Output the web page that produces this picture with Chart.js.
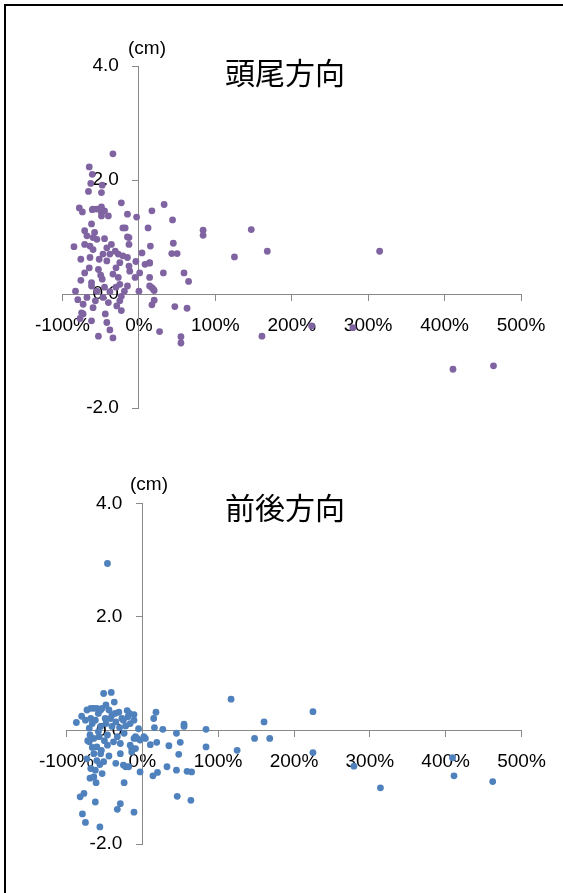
<!DOCTYPE html>
<html>
<head>
<meta charset="utf-8">
<script src="https://cdn.jsdelivr.net/npm/chart.js@4.4.1/dist/chart.umd.min.js"></script>
<style>
html, body { margin: 0; padding: 0; background: #fff; }
#wrap { position: relative; width: 563px; height: 893px; overflow: hidden; background: #fff; }
#frameL { position: absolute; left: 4px; top: 4px; width: 2px; height: 889px; background: #000; }
#frameT { position: absolute; left: 4px; top: 4px; width: 559px; height: 2px; background: #000; }
canvas { position: absolute; left: 0; }
.title { position: absolute; font-family: "Noto Sans CJK JP", "Noto Sans CJK SC", sans-serif; font-size: 30px; color: #000; white-space: nowrap; transform: translate(-50%, -50%); line-height: 1; }
.unit { position: absolute; font-family: "Liberation Sans", Arial, sans-serif; font-size: 19px; color: #000; white-space: nowrap; transform: translate(-50%, -50%); line-height: 1; }
</style>
</head>
<body>
<div id="wrap">
  <div id="frameL"></div>
  <div id="frameT"></div>
  <canvas id="c1" width="563" height="446" style="top:0px"></canvas>
  <canvas id="c2" width="563" height="447" style="top:446px"></canvas>
  <div class="unit" style="left:147px; top:47px">(cm)</div>
  <div class="title" style="left:285px; top:71px">頭尾方向</div>
  <div class="unit" style="left:149px; top:483px">(cm)</div>
  <div class="title" style="left:285px; top:506px">前後方向</div>
</div>
<script>
// ---- tick labels ----
const xTickValues = [-100, 0, 100, 200, 300, 400, 500];
const xTickLabels = ['-100%', '0%', '100%', '200%', '300%', '400%', '500%'];
const yTickValues = [-2, 0, 2, 4];
const yTickLabels = ['-2.0', '0.0', '2.0', '4.0'];

// ---- series 1: 頭尾方向 (x = %, y = cm) ----
const headTailX = [
  -34, -65, -61, -63, -48, -66, -49, -23, -78, -74, -61, -55, -49, -60, -49, -45, -40, -49, -15, -3,
  -62, -18, -21, -15, -13, -71, -58, -68, -60, -45, -55, -85, -71, -64, -60, -42, -36, -31, -38, -21,
  -15, -13, 4, 12, 17, -76, -64, -52, -47, -42, -27, -25, -13, -4, 8, 14, -65, -53, -30, -12,
  -71, -34, 1, -76, -62, -48, -27, -25, -5, 14, 19, 32, -83, -62, -45, -15, 0, -55, -38, -23,
  -68, -47, 14, 59, 65, 17, 20, 15, 14, 33, 44, 84, 84, 147, 45, 43, 50, 168, 125, 315,
  20, 17, 47, 63, 27, 55, 55, 161, 226, 280, 411, 464, -73, -75, -60, -29, -23, -25, -73, -44,
  -62, -42, -38, -53, -34, -77, -80, -57, -40, -50, -30, -19
];
const headTailY = [
  2.46, 2.23, 2.10, 1.94, 1.91, 1.80, 1.78, 1.60, 1.51, 1.44, 1.48, 1.49, 1.53, 1.49, 1.43, 1.46, 1.37, 1.37, 1.40, 1.35,
  1.23, 1.16, 1.16, 1.00, 0.99, 1.11, 1.08, 1.02, 0.99, 0.97, 0.96, 0.83, 0.87, 0.84, 0.78, 0.81, 0.87, 0.75, 0.70, 0.67,
  0.64, 0.87, 0.72, 1.16, 1.46, 0.61, 0.64, 0.61, 0.70, 0.58, 0.70, 0.55, 0.49, 0.57, 0.52, 0.55, 0.46, 0.43, 0.46, 0.40,
  0.37, 0.35, 0.37, 0.24, 0.20, 0.26, 0.29, 0.17, 0.29, 0.29, 0.08, 0.37, 0.05, 0.14, 0.12, 0.14, 0.05, 0.05, 0.04, -0.04,
  -0.06, -0.06, 0.14, 0.37, 0.22, 0.11, 0.06, 0.84, 0.54, 1.57, 1.30, 1.12, 1.03, 1.13, 0.89, 0.71, 0.71, 0.75, 0.65, 0.75,
  -0.11, -0.19, -0.22, -0.25, -0.66, -0.75, -0.86, -0.74, -0.56, -0.59, -1.32, -1.26, -0.18, -0.33, -0.24, -0.21, -0.29, -0.12, -0.35, -0.35,
  -0.47, -0.50, -0.63, -0.74, -0.77, -0.43, -0.10, -0.12, -0.15, 0.33, 0.12, 0.05
];

// ---- series 2: 前後方向 (x = %, y = cm) ----
const frontBackX = [
  -46, -51, -41, -37, -87, -73, -68, -60, -53, -44, -36, -75, -68, -62, -49, -42, -27, -19, -11, -17,
  -40, -25, -70, -55, -40, -22, -16, -11, -69, -64, -57, -46, -33, -11, -7, 4, -70, -60, -46, -29,
  -16, -9, -14, -64, -55, -29, -14, -73, -60, -51, -25, -18, -22, -3, -68, -62, -69, -61, -53, -64,
  -24, -82, -77, -62, -29, -33, -11, -79, -75, -56, -9, -3, -64, -55,
  -80, -58, -48, -35, -30, -58, -50, -38, -24, -66, -56, -44, -35, -72, -20, -5, -48, -66, -54, -31,
  18, 15, 16, 27, 2, 10.5, 19, 35, 45, 50, 55, 55, 48, 32.5, 20, 14, 45, 59, 65, 46,
  64, 84, 84, 117, 125, 148, 160.5, 168, 225, 225, 279, 314, 409, 411, 462
];
const frontBackY = [
  2.94, 0.65, 0.67, 0.50, 0.14, 0.36, 0.39, 0.39, 0.39, 0.36, 0.30, 0.18, 0.21, 0.18, 0.21, 0.21, 0.21, 0.24, 0.28, 0.30,
  0.27, 0.18, 0.04, 0.07, 0.07, 0.08, 0.12, 0.18, -0.08, -0.14, -0.11, -0.08, -0.11, -0.14, -0.14, -0.14, -0.20, -0.29, -0.26, -0.23,
  -0.26, -0.32, -0.31, -0.41, -0.41, -0.41, -0.38, -0.50, -0.53, -0.55, -0.61, -0.64, -0.64, -0.73, -0.67, -0.70, -0.84, -0.92, -0.76, -0.82,
  -0.92, -1.17, -1.11, -1.26, -1.29, -1.39, -1.44, -1.47, -1.62, -1.70, -0.11, -0.17, 0.39, 0.36,
  0.25, 0.30, 0.12, 0.15, 0.05, -0.02, -0.18, -0.20, -0.05, -0.30, -0.60, -0.45, -0.58, -0.18, 0.35, 0.03, 0.45, 0.12, -0.35, 0.32,
  0.32, 0.21, 0.05, 0.02, -0.11, -0.25, -0.21, -0.27, -0.05, -0.21, 0.11, 0.07, -0.42, -0.64, -0.74, -0.80, -0.70, -0.72, -0.73, -1.16,
  -1.23, 0.02, -0.29, 0.55, -0.35, -0.14, 0.15, -0.14, 0.33, -0.39, -0.63, -1.01, -0.48, -0.80, -0.90
];

const AXIS_COLOR = '#898989';
const TICK_FONT = { family: '"Liberation Sans", Arial, sans-serif', size: 19 };

// shift y tick labels to sit left of the crossing y axis
const yLabelGap = {
  id: 'yLabelGap',
  beforeDraw(chart, args, opts) {
    const ys = chart.scales.y;
    const xPix = chart.scales.x.getPixelForValue(0);
    const items = ys.getLabelItems();
    items.forEach(it => { it.options.translation[0] = xPix - opts.gap; });
  }
};

function makeChart(id, xs, ys, color, pad) {
  const pts = xs.map((x, i) => ({ x: x, y: ys[i] }));
  return new Chart(document.getElementById(id), {
    type: 'scatter',
    data: { datasets: [{ data: pts, backgroundColor: color, borderWidth: 0, pointRadius: 3.4, pointHoverRadius: 3.4, clip: false }] },
    plugins: [yLabelGap],
    options: {
      responsive: false,
      animation: false,
      devicePixelRatio: 1,
      events: [],
      layout: { padding: pad },
      plugins: { legend: { display: false }, tooltip: { enabled: false }, title: { display: false }, yLabelGap: { gap: 20 } },
      scales: {
        x: {
          type: 'linear', min: -100, max: 500, position: { y: 0 },
          afterBuildTicks: (s) => { s.ticks = xTickValues.map(v => ({ value: v })); },
          ticks: {
            callback: (v) => { const i = xTickValues.indexOf(v); return i >= 0 ? xTickLabels[i] : ''; },
            font: TICK_FONT, color: '#000', padding: 14, maxRotation: 0, minRotation: 0, autoSkip: false
          },
          grid: { display: true, drawOnChartArea: false, drawTicks: true, tickLength: 6, color: AXIS_COLOR, lineWidth: 1 },
          border: { display: true, color: AXIS_COLOR, width: 1 }
        },
        y: {
          type: 'linear', min: -2, max: 4, position: { x: 0 },
          afterBuildTicks: (s) => { s.ticks = yTickValues.map(v => ({ value: v })); },
          ticks: {
            callback: (v) => { const i = yTickValues.indexOf(v); return i >= 0 ? yTickLabels[i] : ''; },
            font: TICK_FONT, color: '#000', padding: 13, autoSkip: false
          },
          grid: { display: true, drawOnChartArea: false, drawTicks: true, tickLength: 6, color: AXIS_COLOR, lineWidth: 1 },
          border: { display: true, color: AXIS_COLOR, width: 1 }
        }
      }
    }
  });
}

makeChart('c1', headTailX, headTailY, '#8064A2', { left: 62.5, right: 42, top: 66, bottom: 38 });
makeChart('c2', frontBackX, frontBackY, '#4F81BD', { left: 66.5, right: 41.5, top: 57.3, bottom: 49 });
</script>
</body>
</html>
